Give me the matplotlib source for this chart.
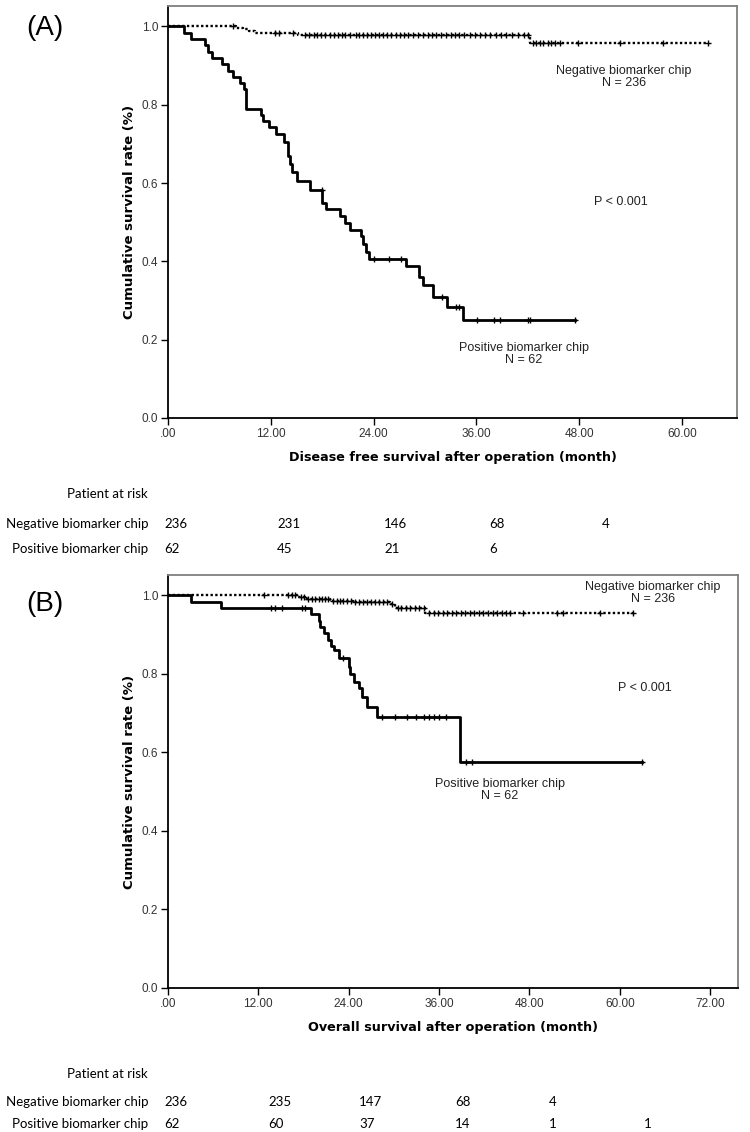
import matplotlib
matplotlib.use('Agg')
import matplotlib.pyplot as plt
import numpy as np

# ---------------- data ----------------
# Panel A: disease free survival (months, survival after each event)
dfs_neg_t = [7.9, 8.7, 9.5, 10.2, 15.2, 42.2]
dfs_neg_s = [0.996, 0.992, 0.987, 0.983, 0.979, 0.958]
dfs_neg_end = 63.0
dfs_neg_cens = [7.6, 12.5, 13.0, 14.6, 16.0, 16.5, 17.0, 17.4, 17.8, 18.3, 18.9, 19.4,
                19.8, 20.3, 20.7, 21.2, 21.9, 22.3, 22.8, 23.2, 23.7, 24.1, 24.6, 25.1,
                25.5, 26.0, 26.6, 27.1, 27.5, 28.0, 28.6, 29.2, 29.8, 30.3, 30.8, 31.3,
                31.9, 32.4, 33.0, 33.5, 34.0, 34.6, 35.2, 35.8, 36.4, 37.0, 37.6, 38.3,
                38.9, 39.5, 40.1, 40.8, 41.5, 42.0, 42.6, 43.0, 43.4, 43.8, 44.3, 44.7,
                45.2, 45.7, 47.9, 52.7, 57.8, 63.0]

dfs_pos_t = [1.9, 2.7, 4.3, 4.7, 5.1, 6.3, 7.0, 7.6, 8.4, 8.9, 9.1, 10.8, 11.1, 11.8,
             12.6, 13.5, 14.06, 14.26, 14.45, 15.0, 16.6, 18.0, 18.4, 20.1, 20.7, 21.2,
             22.5, 22.8, 23.05, 23.4, 27.8, 29.3, 29.8, 30.9, 32.6, 34.4]
dfs_pos_s = [0.984, 0.968, 0.952, 0.935, 0.919, 0.903, 0.887, 0.871, 0.855, 0.839, 0.790,
             0.774, 0.758, 0.742, 0.726, 0.704, 0.670, 0.649, 0.627, 0.604, 0.582, 0.550,
             0.533, 0.515, 0.498, 0.481, 0.464, 0.445, 0.425, 0.406, 0.387, 0.361, 0.339,
             0.309, 0.284, 0.250]
dfs_pos_end = 47.5
dfs_pos_cens = [17.97, 24.0, 25.8, 27.2, 32.0, 33.6, 34.0, 36.1, 38.1, 38.7, 42.0, 42.3, 47.5]

# Panel B: overall survival
os_neg_t = [17.3, 18.2, 21.5, 24.6, 29.5, 30.1, 34.1]
os_neg_s = [0.996, 0.991, 0.987, 0.982, 0.977, 0.968, 0.956]
os_neg_end = 61.7
os_neg_cens = [12.7, 16.0, 16.5, 16.9, 17.6, 18.0, 18.6, 19.1, 19.5, 20.0, 20.4, 20.9,
               21.3, 21.9, 22.4, 22.9, 23.3, 23.8, 24.3, 24.9, 25.4, 25.9, 26.4, 26.9,
               27.5, 28.0, 28.6, 29.1, 29.8, 30.5, 31.0, 31.6, 32.2, 32.8, 33.4, 34.0,
               34.7, 35.3, 35.9, 36.5, 37.1, 37.7, 38.3, 38.9, 39.5, 40.1, 40.7, 41.3,
               41.9, 42.5, 43.1, 43.7, 44.3, 44.9, 45.4, 47.2, 51.7, 52.5, 57.4, 61.7]

os_pos_t = [3.1, 7.0, 19.0, 20.0, 20.2, 20.7, 21.3, 21.7, 22.0, 22.7, 24.0, 24.2, 24.7,
            25.3, 25.8, 26.4, 27.8, 38.8]
os_pos_s = [0.984, 0.968, 0.952, 0.936, 0.919, 0.903, 0.887, 0.871, 0.860, 0.840, 0.818,
            0.801, 0.779, 0.763, 0.741, 0.716, 0.690, 0.575]
os_pos_end = 63.0
os_pos_cens = [13.7, 14.2, 15.1, 17.8, 18.2, 23.2, 28.4, 30.2, 31.8, 32.9, 34.0, 34.7,
               35.3, 36.0, 36.9, 39.6, 40.4, 63.0]

# risk tables
risk_rows = ["Negative biomarker chip", "Positive biomarker chip"]
riskA_neg = ["236", "231", "146", "68", "4"]
riskA_pos = ["62", "45", "21", "6"]
riskB_neg = ["236", "235", "147", "68", "4"]
riskB_pos = ["62", "60", "37", "14", "1", "1"]

xticksA = [0, 12, 24, 36, 48, 60]
xticksB = [0, 12, 24, 36, 48, 60, 72]
yticks = [0.0, 0.2, 0.4, 0.6, 0.8, 1.0]

# ---------------- helpers ----------------
W, H = 750, 1132


def fx(px):
    return px / W


def fy(py):
    return 1 - py / H


def steps(t, s, end):
    return [0.0] + list(t) + [end], [1.0] + list(s) + [s[-1]]


def surv_at(times, t_ev, s_ev):
    idx = np.searchsorted(np.array(t_ev), np.array(times), side='right')
    vals = np.concatenate([[1.0], np.array(s_ev)])
    return vals[idx]


def xfmt(v):
    return ".00" if v == 0 else f"{v:.2f}"


fig = plt.figure(figsize=(7.5, 11.32), dpi=100)

tick_font = ['Liberation Sans Narrow', 'Liberation Sans']
lab_font = 'DejaVu Sans'
note_font = 'Liberation Sans'
risk_font = 'Lato'


def make_panel(rect, xlim, xticks, neg, pos, xlabel):
    ax = fig.add_axes(rect)
    (nt, ns, ne, nc) = neg
    (pt, ps, pe, pc) = pos
    x, y = steps(nt, ns, ne)
    ax.step(x, y, where='post', color='black', lw=1.7, linestyle=(0, (1.0, 1.0)))
    ax.plot(nc, surv_at(nc, nt, ns), linestyle='none', marker='+', color='black',
            markersize=5, mew=1.0)
    x, y = steps(pt, ps, pe)
    ax.step(x, y, where='post', color='black', lw=2.0)
    ax.plot(pc, surv_at(pc, pt, ps), linestyle='none', marker='+', color='black',
            markersize=5, mew=1.0)
    ax.set_xlim(*xlim)
    ax.set_ylim(0, 1.052)
    ax.set_xticks(xticks)
    ax.set_xticklabels([xfmt(v) for v in xticks], family=tick_font, fontsize=8.5,
                       color='#333333')
    ax.set_yticks(yticks)
    ax.set_yticklabels([f"{v:.1f}" for v in yticks], family=tick_font, fontsize=8.5,
                       color='#333333')
    ax.tick_params(direction='out', length=5, width=1, color='black', pad=2)
    for s in ['left', 'bottom']:
        ax.spines[s].set_color('black')
        ax.spines[s].set_linewidth(1.3)
    for s in ['top', 'right']:
        ax.spines[s].set_color('#7f7f7f')
        ax.spines[s].set_linewidth(1.3)
    ax.set_xlabel(xlabel, family=lab_font, fontweight='bold', fontsize=9.2, labelpad=8)
    ax.set_ylabel("Cumulative survival rate (%)", family=lab_font, fontweight='bold',
                  fontsize=9.5, labelpad=4)
    return ax


axA = make_panel([fx(168), fy(418), fx(737 - 168), (418 - 6) / H], (0, 66.4), xticksA,
                 (dfs_neg_t, dfs_neg_s, dfs_neg_end, dfs_neg_cens),
                 (dfs_pos_t, dfs_pos_s, dfs_pos_end, dfs_pos_cens),
                 "Disease free survival after operation (month)")
axB = make_panel([fx(168), fy(988), fx(738 - 168), (988 - 575) / H], (0, 75.7), xticksB,
                 (os_neg_t, os_neg_s, os_neg_end, os_neg_cens),
                 (os_pos_t, os_pos_s, os_pos_end, os_pos_cens),
                 "Overall survival after operation (month)")

# panel letters
fig.text(fx(26), fy(28), "(A)", family=note_font, fontsize=20, va='center', ha='left')
fig.text(fx(26), fy(604), "(B)", family=note_font, fontsize=20, va='center', ha='left')

# annotations
def note(x, y, s):
    fig.text(fx(x), fy(y), s, family=note_font, fontsize=9, ha='center', va='center',
             color='#222222', linespacing=0.95)

note(624, 77, "Negative biomarker chip\nN = 236")
note(621, 202, "P < 0.001")
note(524, 354, "Positive biomarker chip\nN = 62")
note(653, 593, "Negative biomarker chip\nN = 236")
note(645, 688, "P < 0.001")
note(500, 790, "Positive biomarker chip\nN = 62")

# risk tables
def risk_table(y0, dy1, dy2, neg, pos, xs):
    fig.text(fx(148), fy(y0), "Patient at risk", family=risk_font, fontsize=9.5,
             ha='right', va='center')
    for name, vals, yy in zip(risk_rows, [neg, pos], [y0 + dy1, y0 + dy2]):
        fig.text(fx(148), fy(yy), name, family=risk_font, fontsize=9.5, ha='right',
                 va='center')
        for v, xx in zip(vals, xs):
            fig.text(fx(xx), fy(yy), v, family=risk_font, fontsize=9.5, ha='left',
                     va='center')

risk_table(494, 30, 55, riskA_neg, riskA_pos, [164, 277, 384, 489, 602])
risk_table(1074, 28, 50, riskB_neg, riskB_pos, [164, 268, 359, 455, 549, 644])

fig.savefig("out.png", dpi=100)
